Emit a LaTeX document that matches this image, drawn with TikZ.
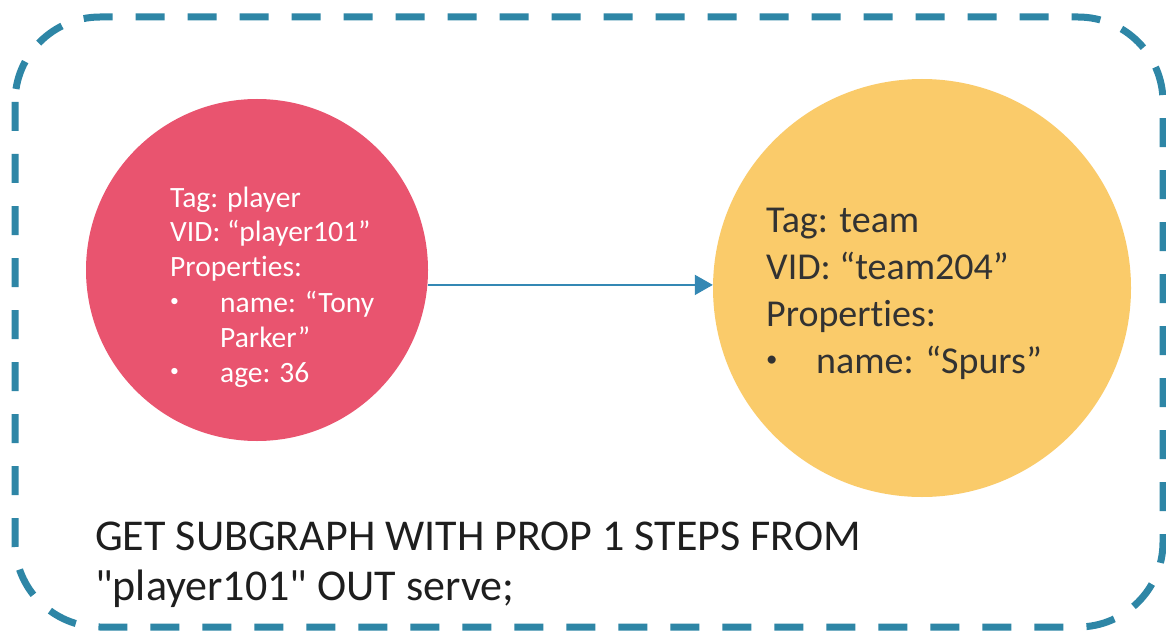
\documentclass[tikz,border=0pt]{standalone}
\usepackage{fontspec}
\setmainfont{Carlito}[Ligatures={NoCommon,TeXOff}]
\usetikzlibrary{arrows.meta}
\definecolor{frameteal}{RGB}{46,134,166}
\definecolor{playerred}{RGB}{233,84,111}
\definecolor{teamyellow}{RGB}{250,203,106}
\definecolor{arrowblue}{RGB}{52,136,180}
\definecolor{darktext}{RGB}{50,50,50}
\definecolor{querytext}{RGB}{30,30,30}
\newcommand{\smbul}[1]{\makebox[#1][l]{\raisebox{0.18em}{\scalebox{0.6}{•}}}}
\tikzset{
  vertex/.style={circle, inner sep=0pt, draw=none},
  frame/.style={draw=frameteal, line width=7pt, dash pattern=on 29pt off 23pt, rounded corners=85pt},
  edgearrow/.style={draw=arrowblue, line width=1.8pt, -{Triangle[length=18pt, width=20pt]}},
  label/.style={inner sep=0pt, anchor=base west},
}
\begin{document}
\begin{tikzpicture}[x=1pt, y=-1pt]
\useasboundingbox (0,0) rectangle (1166,631);
\fill[white] (0,0) rectangle (1166,631);
\draw[frame] (15,17) rectangle (1163,627);
\node[vertex, fill=playerred, minimum size=342pt] (player) at (257,270) {};
\node[vertex, fill=teamyellow, minimum size=418pt] (team) at (922,288) {};
\node[label, text=white] (playertext) at (170,207)
  {\fontsize{29.5}{35}\selectfont\begin{tabular}[t]{@{}l@{}}
  Tag: player\\
  VID: “player101”\\
  Properties:\\
  \smbul{50pt}name: “Tony\\
  \hspace*{50pt}Parker”\\
  \smbul{50pt}age: 36
  \end{tabular}};
\node[label, text=darktext] (teamtext) at (766,232)
  {\fontsize{38}{47}\selectfont\begin{tabular}[t]{@{}l@{}}
  Tag: team\\
  VID: “team204”\\
  Properties:\\
  \smbul{50pt}name: “Spurs”
  \end{tabular}};
\node[label, text=querytext] (query) at (95,550)
  {\fontsize{44}{50}\selectfont\begin{tabular}[t]{@{}l@{}}
  GET SUBGRAPH WITH PROP 1 STEPS FROM\\
  "player101" OUT serve;
  \end{tabular}};
\draw[edgearrow] (player.-5) -- (player.-5 -| team.west);
\end{tikzpicture}
\end{document}
